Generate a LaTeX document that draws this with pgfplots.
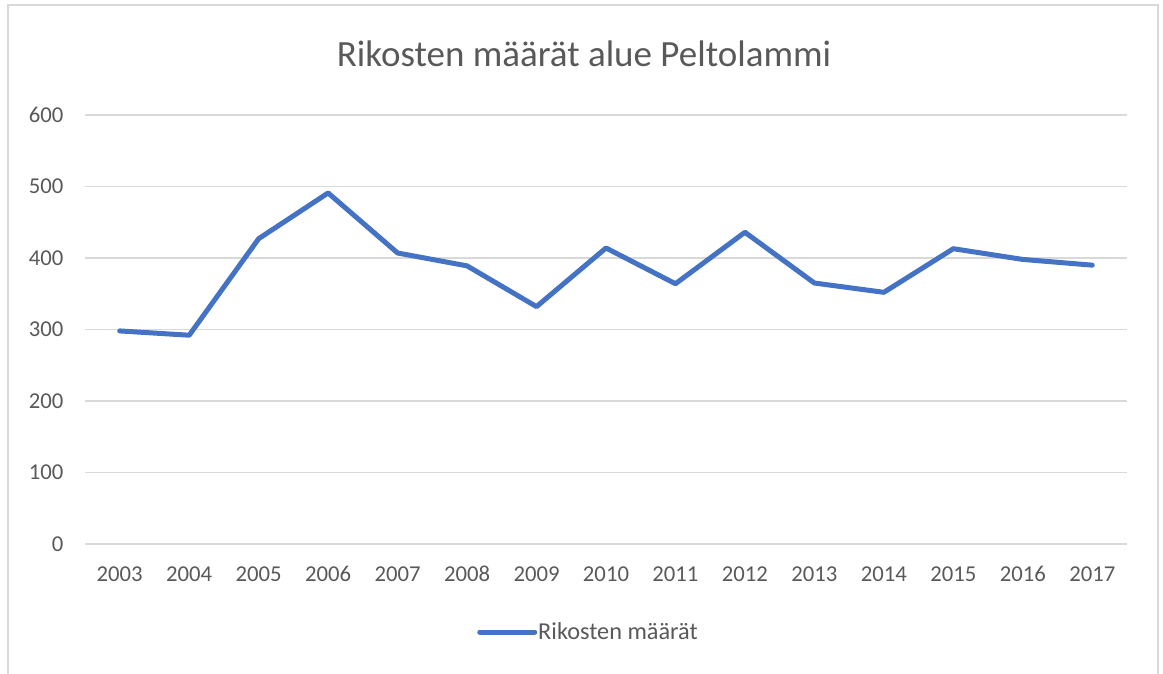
\documentclass[border=0pt]{standalone}
\usepackage{fontspec}
\setmainfont{Carlito}
\usepackage{pgfplots}
\pgfplotsset{compat=1.18}
\definecolor{linec}{HTML}{4472C4}
\definecolor{gridc}{HTML}{D9D9D9}
\definecolor{textc}{HTML}{595959}
\begin{document}
\begin{tikzpicture}[x=1pt,y=1pt]
\useasboundingbox (0,0) rectangle (1163,-674);
\draw[gridc, line width=1.3pt] (8,-5) rectangle (1158,-690);
\begin{axis}[
  at={(85pt,-544pt)}, anchor=south west,
  scale only axis, width=1042pt, height=429pt,
  xmin=-0.5, xmax=14.5, ymin=0, ymax=600,
  xtick={0,...,14},
  xticklabels={2003,2004,2005,2006,2007,2008,2009,2010,2011,2012,2013,2014,2015,2016,2017},
  ytick={0,100,...,600},
  ymajorgrids, major grid style={gridc, line width=1.3pt},
  axis line style={draw=none},
  axis x line*=bottom,
  x axis line style={gridc, line width=1.3pt},
  major tick length=0pt,
  /pgf/number format/assume math mode=true,
  tick label style={font=\fontsize{22.7}{26}\selectfont, text=textc},
  yticklabel style={xshift=-18pt},
  xticklabel style={anchor=center, yshift=-30pt, text height=15pt, text depth=0pt},
  title={Rikosten määrät alue Peltolammi},
  title style={font=\fontsize{37}{42}\selectfont, text=textc, anchor=center, at={(0.5,1)}, yshift=55pt, xshift=-22pt},
  legend style={at={(0.5,0)}, anchor=center, yshift=-88pt, xshift=-18pt, draw=none, fill=none, font=\fontsize{24.3}{28}\selectfont, text=textc, inner sep=0pt, nodes={inner xsep=1pt}},
  legend cell align=left,
  legend image code/.code={\draw[#1, line cap=round] (0pt,0pt) -- (55pt,0pt);},
]
\addplot[linec, line width=5pt, line join=round, line cap=round] coordinates {
(0,298) (1,292) (2,427) (3,491) (4,407) (5,389) (6,332) (7,414) (8,364) (9,436) (10,365) (11,352) (12,413) (13,398) (14,390)
};
\addlegendentry{Rikosten määrät}
\end{axis}
\end{tikzpicture}
\end{document}
